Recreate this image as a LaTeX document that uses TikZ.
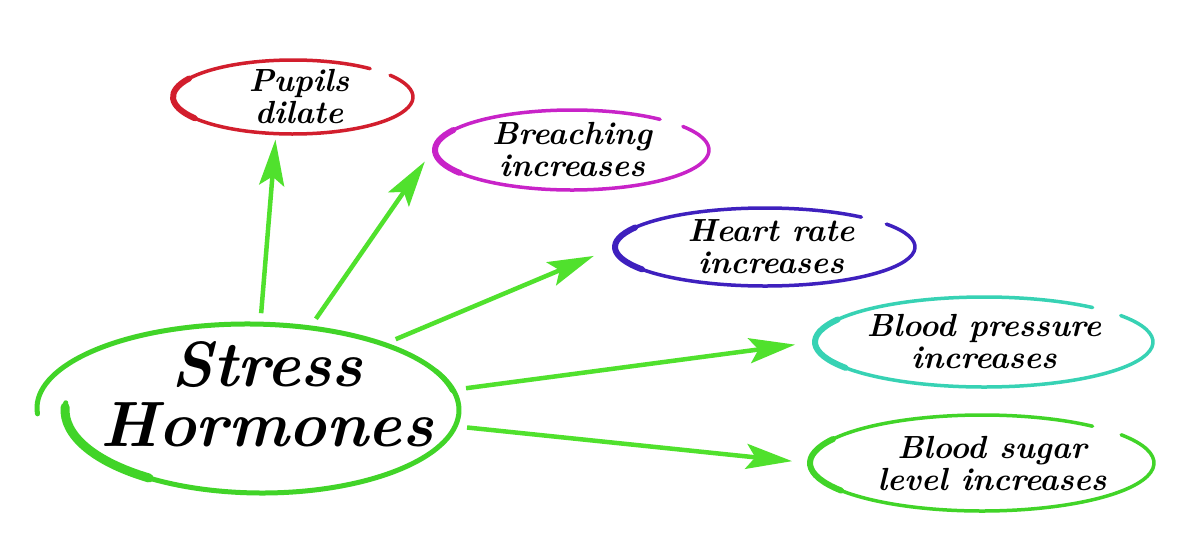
\documentclass[tikz,border=0pt]{standalone}
\usepackage{fontspec}
\usetikzlibrary{arrows.meta,shapes.geometric}
\definecolor{penred}{RGB}{210,30,45}
\definecolor{penmagenta}{RGB}{200,35,200}
\definecolor{penblue}{RGB}{62,32,190}
\definecolor{penteal}{RGB}{55,210,180}
\definecolor{pengreen}{RGB}{65,212,40}
\definecolor{arrowgreen}{RGB}{80,225,45}
\begin{document}
\begin{tikzpicture}[x=1pt,y=1pt,
  bubble/.style={ellipse,inner sep=0pt,outer sep=0pt},
  txt/.style={align=center,font=\bfseries\itshape\fontsize{32}{32}\selectfont,text=black},
  pen/.style={line width=3.5pt,line cap=round},
  feeds/.style={arrowgreen,line width=4.5pt,-{Stealth[length=46pt,width=25pt,inset=9pt]}}]
  \fill[white] (0,0) rectangle (1200,-555);
  \useasboundingbox (0,0) rectangle (1200,-555);

  % centre
  \node[bubble,minimum width=420pt,minimum height=168pt,
    label={[txt,font=\bfseries\itshape\fontsize{64}{60}\selectfont,xshift=20pt,yshift=14pt]center:Stress\\Hormones}]
    (stress) at (247,-408) {};
  \draw[pen,pengreen,line width=5pt] ([shift={(12:210pt and 84pt)}]stress.center)
    arc[start angle=12,end angle=184,x radius=210pt,y radius=84pt];
  \draw[pen,pengreen,line width=5pt] ([xshift=15pt,yshift=-2pt,shift={(175:197pt and 83pt)}]stress.center)
    arc[start angle=175,end angle=388,x radius=197pt,y radius=83pt];
  \draw[pen,pengreen,line width=9pt] ([xshift=15pt,yshift=-2pt,shift={(178:197pt and 83pt)}]stress.center)
    arc[start angle=178,end angle=235,x radius=197pt,y radius=83pt];

  % effects
  \node[bubble,minimum width=240pt,minimum height=74pt,
    label={[txt,xshift=6pt]center:Pupils\\dilate}] (pupils) at (293,-97) {};
  \node[bubble,minimum width=274pt,minimum height=80pt,
    label={[txt]center:Breaching\\increases}] (breach) at (572,-150) {};
  \node[bubble,minimum width=300pt,minimum height=78pt,
    label={[txt,xshift=6pt]center:Heart rate\\increases}] (heart) at (765,-247) {};
  \node[bubble,minimum width=338pt,minimum height=90pt,
    label={[txt]center:Blood pressure\\increases}] (press) at (984,-342) {};
  \node[bubble,minimum width=344pt,minimum height=96pt,
    label={[txt,xshift=10pt]center:Blood sugar\\level increases}] (sugar) at (982,-463) {};

  \foreach \nm/\col/\rx/\ry in {pupils/penred/120/37,breach/penmagenta/137/40,
      heart/penblue/150/39,press/penteal/169/45,sugar/pengreen/172/48}{
    \draw[pen,\col] ([shift={(50:\rx pt and \ry pt)}]\nm.center)
      arc[start angle=50,end angle=396,x radius=\rx pt,y radius=\ry pt];
    \draw[pen,\col,line width=6pt] ([shift={(150:\rx pt and \ry pt)}]\nm.center)
      arc[start angle=150,end angle=215,x radius=\rx pt,y radius=\ry pt];
  }

  \draw[feeds,shorten <=11pt,shorten >=6pt] (stress.81) -- (pupils.245);
  \draw[feeds,shorten <=11pt,shorten >=28pt] (stress.52) -- (breach.175);
  \draw[feeds,shorten <=13pt,shorten >=23pt] (stress.25) -- (heart.180);
  \draw[feeds,shorten <=14pt,shorten >=20pt] (stress.5) -- (press.180);
  \draw[feeds,shorten <=15pt,shorten >=18pt] (stress.-5) -- (sugar.180);
\end{tikzpicture}
\end{document}
